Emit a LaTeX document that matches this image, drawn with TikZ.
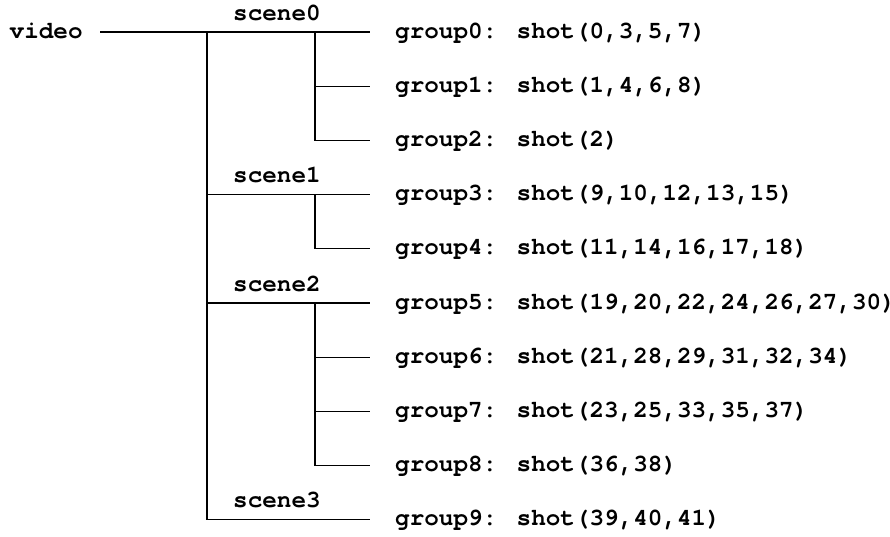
\documentclass[tikz,border=0pt]{standalone}
\usepackage{fontspec}
\newfontfamily\codefont{texgyrecursor}[Extension=.otf, UprightFont=*-regular, BoldFont=*-bold]
\begin{document}
\begin{tikzpicture}[x=1pt,y=-1pt,
  lbl/.style={font=\codefont\bfseries\fontsize{24.3}{26}\selectfont, inner sep=0pt, anchor=base west},
  wire/.style={line width=1.3pt, black}]
\useasboundingbox (0,0) rectangle (890,536);
% row positions
\def\rowgap{54.2}
% trunk junction and end of the video line
\coordinate (root) at (100,32);
\coordinate (t0) at (207,32);
\foreach \i in {0,...,9}{
  \coordinate (e\i) at (370,{32+\rowgap*\i});
  \coordinate (b\i) at (315,{32+\rowgap*\i});
}
\coordinate (t1) at (207,{32+\rowgap*3});
\coordinate (t2) at (207,{32+\rowgap*5});
\coordinate (t3) at (207,{32+\rowgap*9});

% labels
\node[lbl] (video) at (9.5,38) {video};
\node[lbl] (s0) at ([shift={(26,-12)}]t0) {scene0};
\node[lbl] (s1) at ([shift={(26,-12)}]t1) {scene1};
\node[lbl] (s2) at ([shift={(26,-12)}]t2) {scene2};
\node[lbl] (s3) at ([shift={(26,-12)}]t3) {scene3};
\node[lbl] (g0) at ([shift={(25,6)}]e0) {group0: shot(0,3,5,7)};
\node[lbl] (g1) at ([shift={(25,6)}]e1) {group1: shot(1,4,6,8)};
\node[lbl] (g2) at ([shift={(25,6)}]e2) {group2: shot(2)};
\node[lbl] (g3) at ([shift={(25,6)}]e3) {group3: shot(9,10,12,13,15)};
\node[lbl] (g4) at ([shift={(25,6)}]e4) {group4: shot(11,14,16,17,18)};
\node[lbl] (g5) at ([shift={(25,6)}]e5) {group5: shot(19,20,22,24,26,27,30)};
\node[lbl] (g6) at ([shift={(25,6)}]e6) {group6: shot(21,28,29,31,32,34)};
\node[lbl] (g7) at ([shift={(25,6)}]e7) {group7: shot(23,25,33,35,37)};
\node[lbl] (g8) at ([shift={(25,6)}]e8) {group8: shot(36,38)};
\node[lbl] (g9) at ([shift={(25,6)}]e9) {group9: shot(39,40,41)};

% video -> scenes
\draw[wire] (root) -- (e0);
\draw[wire] (t0) -- (t3) -- (e9);
\draw[wire] (t1) -- (e3);
\draw[wire] (t2) -- (e5);
% scene0 -> groups 0..2
\draw[wire] (b0) -- (b2) -- (e2);
\draw[wire] (b1) -- (e1);
% scene1 -> groups 3..4
\draw[wire] (b3) -- (b4) -- (e4);
% scene2 -> groups 5..8
\draw[wire] (b5) -- (b8) -- (e8);
\draw[wire] (b6) -- (e6);
\draw[wire] (b7) -- (e7);
\end{tikzpicture}
\end{document}
